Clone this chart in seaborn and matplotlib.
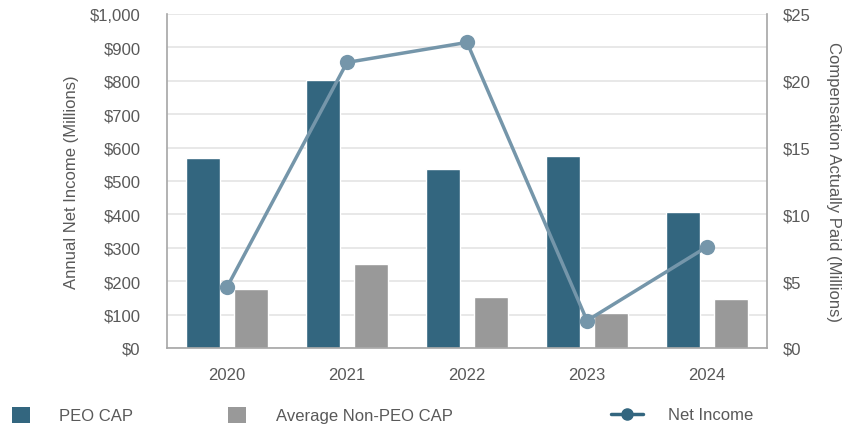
import numpy as np
import pandas as pd
import matplotlib
matplotlib.use("Agg")
import matplotlib.pyplot as plt
from matplotlib.patches import Patch
from matplotlib.lines import Line2D
from matplotlib.ticker import MultipleLocator, FuncFormatter
import seaborn as sns

years = ["2020", "2021", "2022", "2023", "2024"]
peo_cap = [14.23, 20.07, 13.4, 14.36, 10.2]         # $M, right axis
non_peo_cap = [4.4, 6.3, 3.84, 2.64, 3.7]           # $M, right axis
net_income = [182, 855, 915, 82, 303]               # $M, left axis
series_names = ["PEO CAP", "Average Non-PEO CAP"]

sns.set_theme(style="white")
plt.rcParams["font.family"] = ["Liberation Sans", "DejaVu Sans"]

TXT = "#595959"
C_PEO = "#33667f"
C_NON = "#999999"
C_LINE = "#7596aa"
C_GRID = "#e4e4e4"
C_SPINE = "#a6a6a6"

df = pd.DataFrame({
    "year": years * 2,
    "value": peo_cap + non_peo_cap,
    "series": [series_names[0]] * len(years) + [series_names[1]] * len(years),
})

fig = plt.figure(figsize=(8.51, 4.31), dpi=100)
ax = fig.add_axes([167/851, 1 - 349/431, 600/851, (349 - 15)/431])
ax2 = ax.twinx()

# bars on right axis (bottom layer)
sns.barplot(data=df, x="year", y="value", hue="series", ax=ax2,
            palette=[C_PEO, C_NON], width=0.8, gap=0.31, saturation=1,
            legend=False, errorbar=None)
ax2.set_ylim(0, 25)
ax2.yaxis.set_major_locator(MultipleLocator(5))
ax2.yaxis.set_minor_locator(MultipleLocator(2.5))
ax2.yaxis.set_major_formatter(FuncFormatter(lambda v, p: f"${v:,.0f}"))
ax2.grid(True, which="both", axis="y", color=C_GRID, linewidth=1.2)
ax2.set_axisbelow(True)
ax2.tick_params(axis="y", which="both", length=0, labelsize=12, labelcolor=TXT, pad=11)
ax2.set_ylabel("Compensation Actually Paid (Millions)", rotation=270, fontsize=12,
               color=TXT, labelpad=22)
ax2.set_xlabel("")

# line on left axis (top layer)
ax.set_zorder(ax2.get_zorder() + 1)
ax.patch.set_visible(False)
sns.lineplot(x=np.arange(len(years)), y=net_income, ax=ax, color=C_LINE,
             linewidth=2.5, marker="o", markersize=11, markeredgewidth=0)
ax.set_ylim(0, 1000)
ax.yaxis.set_major_locator(MultipleLocator(100))
ax.yaxis.set_major_formatter(FuncFormatter(lambda v, p: f"${v:,.0f}"))
ax.set_xticks(range(len(years)))
ax.set_xticklabels(years)
ax.set_xlim(-0.5, len(years) - 0.5)
ax.tick_params(axis="y", length=0, labelsize=12, labelcolor=TXT, pad=19)
ax.tick_params(axis="x", length=0, labelsize=12, labelcolor=TXT, pad=14)
ax.set_ylabel("Annual Net Income (Millions)", fontsize=12, color=TXT, labelpad=8)
ax.set_xlabel("")

for a in (ax, ax2):
    a.spines["top"].set_visible(False)
    for s in ("left", "right", "bottom"):
        a.spines[s].set_color(C_SPINE)
        a.spines[s].set_linewidth(1.2)
ax2.spines["left"].set_visible(False)
ax2.spines["bottom"].set_visible(False)
ax.spines["right"].set_visible(False)

# legends
ly = 1 - 416/431
common = dict(frameon=False, borderpad=0, borderaxespad=0, fontsize=12,
              labelcolor=TXT, loc="center left")
fig.legend(handles=[Patch(facecolor=C_PEO, edgecolor="none")], labels=[series_names[0]],
           bbox_to_anchor=(12/851, ly), handlelength=1.1, handleheight=1.1,
           handletextpad=1.7, **common)
fig.legend(handles=[Patch(facecolor=C_NON, edgecolor="none")], labels=[series_names[1]],
           bbox_to_anchor=(228/851, ly), handlelength=1.1, handleheight=1.1,
           handletextpad=1.8, **common)
fig.legend(handles=[Line2D([], [], color=C_PEO, linewidth=2.5, marker="o", markersize=8)],
           labels=["Net Income"], bbox_to_anchor=(611/851, ly), handlelength=1.9,
           handletextpad=1.5, **common)

fig.savefig("out.png", dpi=100)
